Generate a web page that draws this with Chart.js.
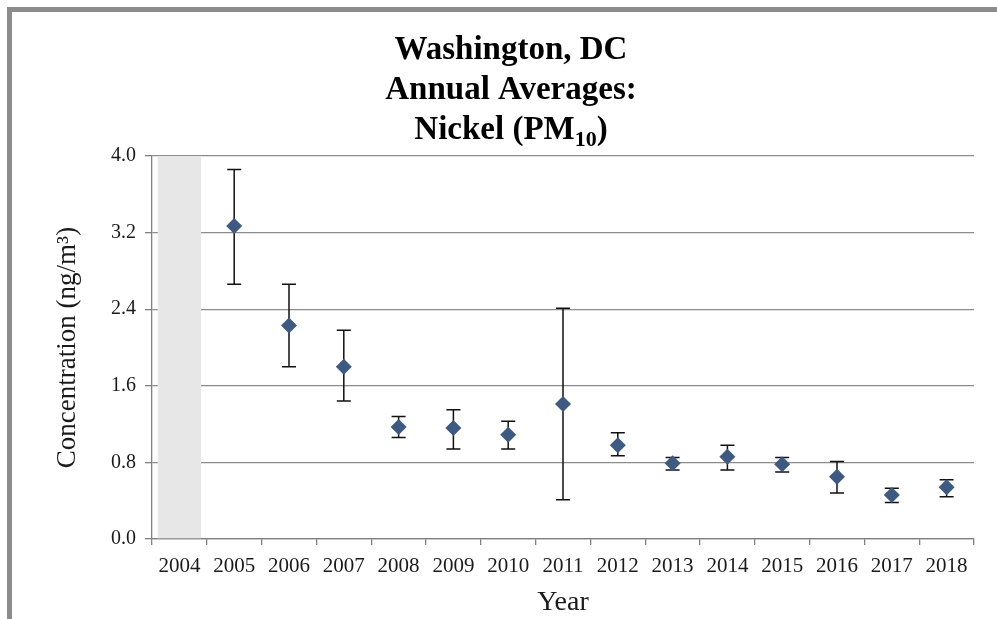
<!DOCTYPE html>
<html>
<head>
<meta charset="utf-8">
<title>Washington, DC Annual Averages: Nickel (PM10)</title>
<script src="https://cdn.jsdelivr.net/npm/chart.js@4/dist/chart.umd.min.js"></script>
<style>
  html, body { margin: 0; padding: 0; background: #ffffff; overflow: hidden; }
  #wrap { position: relative; width: 997px; height: 619px; }
  #frame {
    position: absolute; left: 7px; top: 7px; right: -10px; bottom: -10px;
    border-top: 5px solid #8c8c8c; border-left: 5px solid #8c8c8c;
  }
  #chart { position: absolute; left: 0; top: 0; }
</style>
</head>
<body>
<div id="wrap">
  <div id="frame"></div>
  <canvas id="chart" width="997" height="619"></canvas>
</div>
<script>
// Sampling years on the category axis
const years = ['2004', '2005', '2006', '2007', '2008', '2009', '2010', '2011',
               '2012', '2013', '2014', '2015', '2016', '2017', '2018'];

// Annual average nickel concentration (ng/m3); 2004 has no data
const annualMean = [null, 3.27, 2.23, 1.80, 1.17, 1.16, 1.09, 1.41,
                    0.98, 0.79, 0.86, 0.78, 0.65, 0.46, 0.54];

// Confidence interval bounds around each annual average
const ciUpper = [null, 3.86, 2.66, 2.18, 1.28, 1.35, 1.23, 2.41,
                 1.11, 0.85, 0.98, 0.85, 0.81, 0.53, 0.62];
const ciLower = [null, 2.66, 1.80, 1.44, 1.06, 0.94, 0.94, 0.41,
                 0.87, 0.72, 0.72, 0.70, 0.48, 0.38, 0.44];

// Shaded band marking the year without sampling
const noDataBand = [4.0, null, null, null, null, null, null, null,
                    null, null, null, null, null, null, null];

// Y-axis tick values
const yTicks = [0.0, 0.8, 1.6, 2.4, 3.2, 4.0];

const titleLines = ['Washington, DC', 'Annual Averages:'];
const titleLast = { before: 'Nickel (PM', sub: '10', after: ')' };

const SERIF = '"Liberation Serif", "Times New Roman", Times, serif';

// Vertical error bars with caps, drawn just beneath the diamond markers
const errorBarPlugin = {
  id: 'errorBars',
  beforeDatasetDraw(chart, args) {
    if (args.meta.type !== 'line') return;
    const { ctx, scales: { y } } = chart;
    ctx.save();
    ctx.strokeStyle = '#111111';
    ctx.lineWidth = 1.5;
    args.meta.data.forEach((pt, i) => {
      if (ciUpper[i] == null || ciLower[i] == null) return;
      const x = pt.x;
      const yTop = y.getPixelForValue(ciUpper[i]);
      const yBot = y.getPixelForValue(ciLower[i]);
      const cap = 7;
      ctx.beginPath();
      ctx.moveTo(x, yTop); ctx.lineTo(x, yBot);
      ctx.moveTo(x - cap, yTop); ctx.lineTo(x + cap, yTop);
      ctx.moveTo(x - cap, yBot); ctx.lineTo(x + cap, yBot);
      ctx.stroke();
    });
    ctx.restore();
  }
};

// Three-line bold title with a subscript in the last line
const titlePlugin = {
  id: 'stackedTitle',
  afterDraw(chart) {
    const ctx = chart.ctx;
    const cx = 511;
    const baselines = [59, 99, 139];
    ctx.save();
    ctx.fillStyle = '#000000';
    ctx.textBaseline = 'alphabetic';
    ctx.font = 'bold 33px ' + SERIF;
    ctx.textAlign = 'center';
    titleLines.forEach((t, i) => ctx.fillText(t, cx, baselines[i]));

    ctx.textAlign = 'left';
    const bigFont = 'bold 33px ' + SERIF;
    const subFont = 'bold 22px ' + SERIF;
    ctx.font = bigFont;
    const w1 = ctx.measureText(titleLast.before).width;
    const w3 = ctx.measureText(titleLast.after).width;
    ctx.font = subFont;
    const w2 = ctx.measureText(titleLast.sub).width;
    let x = cx - (w1 + w2 + w3) / 2;
    const b = baselines[2];
    ctx.font = bigFont;
    ctx.fillText(titleLast.before, x, b);
    x += w1;
    ctx.font = subFont;
    ctx.fillText(titleLast.sub, x, b + 7);
    x += w2;
    ctx.font = bigFont;
    ctx.fillText(titleLast.after, x, b);
    ctx.restore();
  }
};

new Chart(document.getElementById('chart'), {
  type: 'bar',
  data: {
    labels: years,
    datasets: [
      {
        type: 'line',
        label: 'Annual average',
        data: annualMean,
        showLine: false,
        pointStyle: 'rectRot',
        pointRadius: 8,
        pointHoverRadius: 8,
        pointBackgroundColor: '#3e5a80',
        pointBorderColor: '#3e5a80',
        pointBorderWidth: 0,
        order: 1
      },
      {
        type: 'bar',
        label: 'No data',
        data: noDataBand,
        backgroundColor: '#e7e7e7',
        borderWidth: 0,
        barPercentage: 0.79,
        categoryPercentage: 1.0,
        order: 2
      }
    ]
  },
  options: {
    responsive: false,
    animation: false,
    devicePixelRatio: 1,
    layout: { padding: { top: 156, right: 23, bottom: 0, left: 0 } },
    plugins: {
      legend: { display: false },
      tooltip: { enabled: false },
      title: { display: false }
    },
    scales: {
      x: {
        type: 'category',
        offset: true,
        grid: {
          offset: true,
          drawOnChartArea: false,
          drawTicks: true,
          tickLength: 6,
          tickColor: '#808080',
          lineWidth: 1.3
        },
        border: { color: '#808080', width: 1.3 },
        ticks: {
          color: '#1a1a1a',
          font: { family: SERIF, size: 21 },
          padding: 9,
          maxRotation: 0,
          autoSkip: false
        },
        title: {
          display: true,
          text: 'Year',
          color: '#1a1a1a',
          font: { family: SERIF, size: 28 },
          padding: { top: 0, bottom: 0 }
        },
        afterFit(scale) { scale.height = 80; }
      },
      y: {
        min: 0,
        max: 4,
        afterBuildTicks(scale) { scale.ticks = yTicks.map(v => ({ value: v })); },
        grid: {
          color: '#8c8c8c',
          lineWidth: 1.3,
          drawTicks: true,
          tickLength: 7,
          tickColor: '#808080'
        },
        border: { color: '#808080', width: 1.3 },
        ticks: {
          color: '#1a1a1a',
          font: { family: SERIF, size: 20 },
          padding: 9,
          callback: v => Number(v).toFixed(1)
        },
        title: {
          display: true,
          text: 'Concentration (ng/m³)',
          color: '#1a1a1a',
          font: { family: SERIF, size: 27 },
          padding: { top: 52, bottom: 0 }
        },
        afterFit(scale) { scale.width = 152; }
      }
    }
  },
  plugins: [errorBarPlugin, titlePlugin]
});
</script>
</body>
</html>
